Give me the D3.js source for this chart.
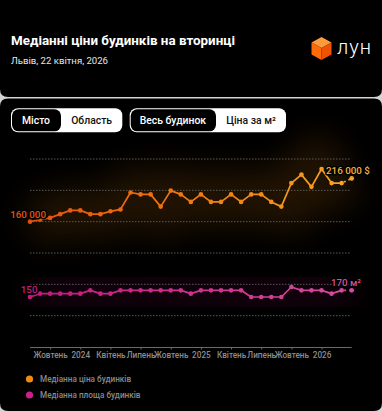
<!DOCTYPE html>
<html><head><meta charset="utf-8">
<script src="https://cdn.jsdelivr.net/npm/d3@7"></script>
<style>
html,body{margin:0;padding:0;background:#d4d4d4;}
body{width:382px;height:411px;overflow:hidden;font-family:Roboto,"Noto Sans",sans-serif;}
</style></head>
<body>
<svg id="c" width="382" height="411"></svg>
<script>
const months = ["2023-08","2023-09","2023-10","2023-11","2023-12","2024-01","2024-02","2024-03","2024-04","2024-05","2024-06","2024-07","2024-08","2024-09","2024-10","2024-11","2024-12","2025-01","2025-02","2025-03","2025-04","2025-05","2025-06","2025-07","2025-08","2025-09","2025-10","2025-11","2025-12","2026-01","2026-02","2026-03","2026-04"];
const priceValues = [160000,162000,164000,168000,172000,172000,168000,168000,171000,173000,191000,189000,189000,176000,193000,189000,181000,189000,181000,181000,189000,181000,189000,189000,181000,176000,201000,210000,197000,216000,201000,201000,206000];
const areaValues = [150,160,160,160,160,160,170,160,160,170,170,170,170,170,170,170,160,170,170,170,170,170,150,150,150,150,180,170,170,170,160,170,170];
const tickMonths = ["2023-10","2024-01","2024-04","2024-07","2024-10","2025-01","2025-04","2025-07","2025-10","2026-01"];
const monthNames = {"01":null,"04":"Квітень","07":"Липень","10":"Жовтень"};
const priceDomain = [26800, 226600];
const areaDomain = [0, 564];
const legendItems = ["Медіанна ціна будинків","Медіанна площа будинків"];

(function(){
const svg = d3.select("#c");
const defs = svg.append("defs");

// cards
svg.append("path").attr("fill","#000")
  .attr("d","M0,0 H382 V89 Q382,97 374,97 H8 Q0,97 0,89 Z");
svg.append("path").attr("fill","#000")
  .attr("d","M0,106.5 Q0,98.5 8,98.5 H374 Q382,98.5 382,106.5 V403 Q382,411 374,411 H8 Q0,411 0,403 Z");

// header
svg.append("text").attr("x",11).attr("y",45).attr("fill","#fff")
  .attr("font-size",13.4).attr("font-weight",700).text("Медіанні ціни будинків на вторинці");
svg.append("text").attr("x",11).attr("y",64.3).attr("fill","#e6e6e6")
  .attr("font-size",9.6).text("Львів, 22 квітня, 2026");

// logo cube
const cube = svg.append("g");
cube.append("path").attr("fill","#ff9b3d").attr("d","M321.5,37 L331.5,42.5 L321.5,48 L311.5,42.5 Z");
cube.append("path").attr("fill","#ff6a0a").attr("d","M311.5,42.5 L321.5,48 L321.5,60 L311.5,54.5 Z");
cube.append("path").attr("fill","#f05300").attr("d","M331.5,42.5 L321.5,48 L321.5,60 L331.5,54.5 Z");
svg.append("text").attr("x",337).attr("y",54).attr("fill","#fff").attr("font-size",20)
  .attr("font-weight",300).attr("letter-spacing",1).text("лун");

// toggles
function toggle(x0, x1, xs, y0, y1, selLabel, otherLabel){
  const g = svg.append("g");
  g.append("rect").attr("x",x0).attr("y",y0).attr("width",x1-x0).attr("height",y1-y0).attr("rx",7).attr("fill","#fff");
  g.append("rect").attr("x",x0+1).attr("y",y0+1).attr("width",xs-x0-1).attr("height",y1-y0-2).attr("rx",6.5).attr("fill","#000");
  g.append("text").attr("x",(x0+xs)/2).attr("y",(y0+y1)/2+3.7).attr("text-anchor","middle").attr("fill","#fff")
    .attr("font-size",10.4).attr("font-weight",500).text(selLabel);
  g.append("text").attr("x",(xs+x1)/2).attr("y",(y0+y1)/2+3.7).attr("text-anchor","middle").attr("fill","#111")
    .attr("font-size",10.4).attr("font-weight",500).text(otherLabel);
}
toggle(11,122.3,61,108.3,132.3,"Місто","Область");
toggle(129.7,286,216,108.3,132.3,"Весь будинок","Ціна за м²");

// chart
const pLeft=30, pRight=351.7, pTop=159, pBottom=347;
const x = d3.scalePoint().domain(months).range([pLeft,pRight]);
const yP = d3.scaleLinear().domain(priceDomain).range([pBottom, pTop]);
const yA = d3.scaleLinear().domain(areaDomain).range([pBottom, pTop]);

// glows
const blur = defs.append("filter").attr("id","blur").attr("x","-50%").attr("y","-100%").attr("width","200%").attr("height","300%");
blur.append("feGaussianBlur").attr("stdDeviation",16);
const gP = defs.append("linearGradient").attr("id","gP").attr("gradientUnits","userSpaceOnUse")
  .attr("x1",pLeft).attr("x2",pRight).attr("y1",0).attr("y2",0);
gP.append("stop").attr("offset","0").attr("stop-color","#e5500c");
gP.append("stop").attr("offset","0.5").attr("stop-color","#f07a14");
gP.append("stop").attr("offset","1").attr("stop-color","#f7a526");
const gA = defs.append("linearGradient").attr("id","gA").attr("gradientUnits","userSpaceOnUse")
  .attr("x1",pLeft).attr("x2",pRight).attr("y1",0).attr("y2",0);
gA.append("stop").attr("offset","0").attr("stop-color","#c4187c");
gA.append("stop").attr("offset","1").attr("stop-color","#d64c9c");

const lineP = d3.line().x((d,i)=>x(months[i])).y(d=>yP(d));
const lineA = d3.line().x((d,i)=>x(months[i])).y(d=>yA(d));

svg.append("path").attr("d",lineP(priceValues)).attr("fill","none").attr("stroke","#a8620a")
  .attr("stroke-width",46).attr("opacity",0.2).attr("filter","url(#blur)");
svg.append("path").attr("d",lineA(areaValues)).attr("fill","none").attr("stroke","#8a1060")
  .attr("stroke-width",40).attr("opacity",0.15).attr("filter","url(#blur)");

// gridlines
const gridLevels = d3.range(6).map(k=>pTop + k*(pBottom-pTop)/6);
svg.append("g").selectAll("line").data(gridLevels).join("line")
  .attr("x1",pLeft).attr("x2",pRight-0.7).attr("y1",d=>d).attr("y2",d=>d)
  .attr("stroke","#5a5a5a").attr("stroke-width",1).attr("stroke-dasharray","1.5,1.5");

// x axis
const axis = d3.axisBottom(x).tickValues(tickMonths).tickSize(2.5).tickPadding(2.8)
  .tickFormat(m=>{const mm=m.slice(5); return monthNames[mm]||m.slice(0,4);});
const ax = svg.append("g").attr("transform",`translate(0,${pBottom})`).call(axis);
ax.select(".domain").attr("stroke","#6a6a6a").attr("d",`M${pLeft},0.5H${pRight}`);
ax.selectAll(".tick line").attr("stroke","#6a6a6a");
ax.selectAll(".tick text").attr("fill","#8c8c8c").attr("font-size",8.2).attr("font-weight",500)
  .attr("font-family","Roboto,sans-serif");

// series lines (last segment dashed)
function drawSeries(vals, yS, grad){
  const n = vals.length;
  const line = d3.line().x((d,i)=>x(months[i])).y(d=>yS(d));
  svg.append("path").attr("d",line(vals.slice(0,n-1))).attr("fill","none").attr("stroke",`url(#${grad})`)
    .attr("stroke-width",1.7).attr("stroke-linejoin","round");
  const seg = d3.line().x(d=>x(months[d])).y(d=>yS(vals[d]));
  svg.append("path").attr("d",seg([n-2,n-1])).attr("fill","none").attr("stroke",`url(#${grad})`)
    .attr("stroke-width",1.7).attr("stroke-dasharray","2,3").attr("stroke-dashoffset",-2.5);
  svg.append("g").selectAll("circle").data(vals).join("circle")
    .attr("cx",(d,i)=>x(months[i])).attr("cy",d=>yS(d)).attr("r",2.3)
    .attr("fill",`url(#${grad})`);
}
drawSeries(priceValues, yP, "gP");
drawSeries(areaValues, yA, "gA");

// value labels with halo
function label(t, xx, yy, anchor, color){
  svg.append("text").attr("x",xx).attr("y",yy).attr("text-anchor",anchor).attr("fill",color)
    .attr("font-size",9.8).attr("font-weight",500).attr("stroke","#000").attr("stroke-width",3)
    .attr("paint-order","stroke").attr("stroke-linejoin","round").text(t);
}
const fmt = v => d3.format(",")(v).replace(/,/g," ");
const maxI = priceValues.indexOf(d3.max(priceValues));
label(fmt(priceValues[0]), 46, 218, "end", "#e2560f");
label(fmt(priceValues[maxI])+" $", x(months[maxI])+4.5, 174.3, "start", "#f5b034");
label(String(areaValues[0]), 37.5, 292.8, "end", "#c61e80");
label(areaValues[areaValues.length-1]+" м²", 361, 286.4, "end", "#d4519a");

// legend
const leg = svg.append("g");
const legColors = ["#f08a12","#c8218a"];
legendItems.forEach((t,i)=>{
  leg.append("circle").attr("cx",29.5).attr("cy",379+i*16).attr("r",3.6).attr("fill",legColors[i]);
  leg.append("text").attr("x",40).attr("y",382+i*16).attr("fill","#8a8a8a").attr("font-size",8.2)
    .attr("font-weight",500).text(t);
});
})();
</script>
</body></html>
